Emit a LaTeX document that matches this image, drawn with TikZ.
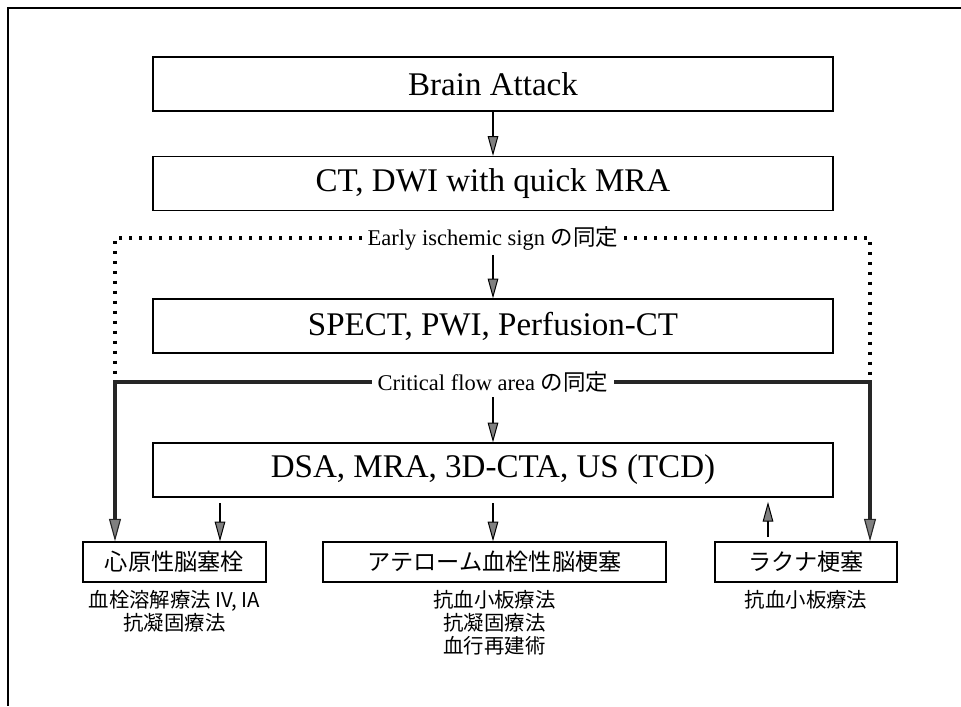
\documentclass[tikz,border=0pt]{standalone}
\usepackage{fontspec}
\setmainfont{Liberation Serif}
\newfontfamily\jp{Noto Sans CJK JP}
\usetikzlibrary{arrows.meta,positioning}
\tikzset{
  stepbox/.style={
    draw,
    line width=0.9pt,
    minimum width=17cm,
    minimum height=1.35cm,
    font=\fontsize{23.5}{27}\selectfont
  },
  kindbox/.style={
    draw,
    line width=0.9pt,
    minimum height=1.0cm,
    font=\jp\fontsize{16.5}{20}\selectfont
  },
  therapy/.style={
    anchor=north,
    align=center,
    inner sep=0pt,
    font=\jp\fontsize{14.5}{16.5}\selectfont
  },
  finding/.style={
    inner xsep=4pt,
    font=\fontsize{16}{19}\selectfont
  },
  flow/.style={
    line width=1.6pt,
    -{Triangle[length=14pt,width=7.5pt,fill=black!50,line width=0.7pt]}
  },
  trunk/.style={
    line width=2.8pt,
    draw=black!85,
    -{Triangle[length=16pt,width=8.5pt,fill=black!50,line width=0.8pt]}
  },
  dotline/.style={
    line width=2.4pt,
    dash pattern=on 2.2pt off 4.9pt
  }
}
\begin{document}
\begin{tikzpicture}[x=0.025cm,y=-0.025cm]
  \useasboundingbox (0,0) rectangle (961,706);
  \draw[line width=0.9pt] (961,8) -- (8,8) -- (8,706);

  % imaging steps
  \node[stepbox] (attack) at (493,84) {Brain Attack};
  \node[stepbox] (ctdwi) at (493,183.5) {CT, DWI with quick MRA};
  \node[finding] (early) at (493,238) {Early ischemic sign {\jp の同定}};
  \node[stepbox] (spect) at (493,326) {SPECT, PWI, Perfusion-CT};
  \node[finding] (critical) at (493,382) {Critical flow area {\jp の同定}};
  \node[stepbox] (dsa) at (493,470) {DSA, MRA, 3D-CTA, US (TCD)};

  % stroke types
  \node[kindbox, minimum width=4.575cm] (cardio) at (174.5,562) {心原性脳塞栓};
  \node[kindbox, minimum width=8.575cm] (athero) at (494.5,562) {アテローム血栓性脳梗塞};
  \node[kindbox, minimum width=4.55cm] (lacunar) at (806,562) {ラクナ梗塞};

  \node[therapy] at ([yshift=-5pt]cardio.south) {血栓溶解療法 IV, IA\\抗凝固療法};
  \node[therapy] at ([yshift=-5pt]athero.south) {抗血小板療法\\抗凝固療法\\血行再建術};
  \node[therapy] at ([yshift=-5pt]lacunar.south) {抗血小板療法};

  \draw[flow] (attack) -- (ctdwi);
  \draw[flow] (early) -- (spect);
  \draw[flow] (critical) -- (dsa);

  \coordinate (ld) at (115,238);
  \coordinate (rd) at (870,238);
  \coordinate (lt) at (115,382);
  \coordinate (rt) at (870,382);
  \draw[dotline] (early.west) -- (ld) -- ([yshift=-4pt]lt);
  \draw[dotline] (early.east) -- (rd) -- ([yshift=-4pt]rt);
  \draw[trunk] (critical.west) -- (lt) -- (lt |- cardio.north);
  \draw[trunk] (critical.east) -- (rt) -- (rt |- lacunar.north);

  \coordinate (c2) at (220,0);
  \coordinate (c4) at (768,0);
  \draw[flow, shorten <=4pt] (dsa.south -| c2) -- (cardio.north -| c2);
  \draw[flow, shorten <=4pt] (dsa.south) -- (dsa.south |- athero.north);
  \draw[flow, shorten <=3pt, shorten >=3pt] (lacunar.north -| c4) -- (dsa.south -| c4);
\end{tikzpicture}
\end{document}
